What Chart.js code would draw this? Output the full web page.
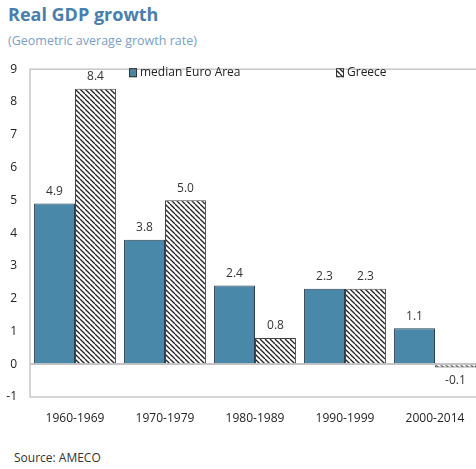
<!DOCTYPE html>
<html>
<head>
<meta charset="utf-8">
<script src="https://cdn.jsdelivr.net/npm/chart.js@4"></script>
<style>
    html, body { margin: 0; padding: 0; background: #fff; width: 476px; height: 469px; overflow: hidden; position: relative; font-family: "Open Sans", sans-serif; }
    #title { position: absolute; left: 8px; top: 2px; font-size: 18px; font-weight: bold; color: #4a7eac; }
    #subtitle { position: absolute; left: 8px; top: 32px; font-size: 12.5px; color: #7b9ec4; }
    #source { position: absolute; left: 14px; top: 449px; font-size: 12px; color: #333; }
    #wrap { position: absolute; left: 0; top: 49px; }
</style>
</head>
<body>
<div id="title">Real GDP growth</div>
<div id="subtitle">(Geometric average growth rate)</div>
<div id="wrap"><canvas id="gdpChart" width="480" height="391"></canvas></div>
<div id="source">Source: AMECO</div>
<script>
    var periods = ['1960-1969', '1970-1979', '1980-1989', '1990-1999', '2000-2014'];
    var euroArea = [4.9, 3.8, 2.4, 2.3, 1.1];
    var greece = [8.4, 5.0, 0.8, 2.3, -0.1];

    // diagonal hatching used for the Greece bars
    function hatch() {
        var s = 5;
        var c = document.createElement('canvas');
        c.width = s; c.height = s;
        var g = c.getContext('2d');
        g.fillStyle = '#fff';
        g.fillRect(0, 0, s, s);
        g.strokeStyle = '#222';
        g.lineWidth = 1.3;
        [-s, 0, s].forEach(function (o) {
            g.beginPath();
            g.moveTo(o, 0);
            g.lineTo(o + s, s);
            g.stroke();
        });
        return g.createPattern(c, 'repeat');
    }
    var greecePattern = hatch();

    var plotBox = {
        id: 'plotBox',
        beforeDatasetsDraw: function (chart) {
            var a = chart.chartArea, ctx = chart.ctx;
            ctx.save();
            ctx.strokeStyle = '#c8c8c8';
            ctx.lineWidth = 1.5;
            ctx.strokeRect(a.left, a.top, a.right - a.left, a.bottom - a.top);
            ctx.restore();
        }
    };

    var valueLabels = {
        id: 'valueLabels',
        afterDatasetsDraw: function (chart) {
            var ctx = chart.ctx;
            ctx.save();
            ctx.font = '12px "Open Sans"';
            ctx.fillStyle = '#333';
            ctx.textAlign = 'center';
            chart.data.datasets.forEach(function (ds, i) {
                chart.getDatasetMeta(i).data.forEach(function (bar, j) {
                    var v = ds.data[j];
                    if (v >= 0) {
                        ctx.textBaseline = 'bottom';
                        ctx.fillText(v.toFixed(1), bar.x, bar.y - 6);
                    } else {
                        ctx.textBaseline = 'top';
                        ctx.fillText(v.toFixed(1), bar.x, bar.y + 7);
                    }
                });
            });
            ctx.restore();
        }
    };

    var legendBox = {
        id: 'legendBox',
        afterDraw: function (chart) {
            var ctx = chart.ctx;
            var xs = [129, 336];
            var y = chart.chartArea.top + 3;
            ctx.save();
            ctx.font = '12px "Open Sans"';
            ctx.textBaseline = 'middle';
            ctx.textAlign = 'left';
            chart.data.datasets.forEach(function (ds, i) {
                var x = xs[i];
                ctx.fillStyle = ds.backgroundColor;
                ctx.fillRect(x, y - 4, 8, 9);
                ctx.strokeStyle = '#333';
                ctx.lineWidth = 1;
                ctx.strokeRect(x + 0.5, y - 3.5, 7, 8);
                ctx.fillStyle = '#222';
                ctx.fillText(ds.label, x + 11, y);
            });
            ctx.restore();
        }
    };

    new Chart(document.getElementById('gdpChart').getContext('2d'), {
        type: 'bar',
        data: {
            labels: periods,
            datasets: [{
                label: 'median Euro Area',
                data: euroArea,
                backgroundColor: '#4a88aa',
                borderColor: '#2b3e4a',
                borderWidth: 1
            }, {
                label: 'Greece',
                data: greece,
                backgroundColor: greecePattern,
                borderColor: '#444',
                borderWidth: 1
            }]
        },
        options: {
            responsive: false,
            animation: false,
            layout: { autoPadding: false, padding: { top: 9, right: 0, bottom: 13, left: 0 } },
            plugins: {
                legend: { display: false },
                tooltip: { enabled: false }
            },
            datasets: {
                bar: { categoryPercentage: 0.91, barPercentage: 1.0 }
            },
            scales: {
                x: {
                    afterFit: function (scale) { scale.height = 30; },
                    grid: { display: false, drawTicks: false },
                    border: { display: false },
                    ticks: { color: '#222', font: { family: 'Open Sans', size: 12 }, padding: 14, maxRotation: 0 }
                },
                y: {
                    min: -1,
                    max: 9,
                    afterFit: function (scale) { scale.width = 30; },
                    border: { display: false },
                    grid: {
                        drawTicks: false,
                        color: function (c) { return c.tick && c.tick.value === 0 ? '#c4c4c4' : 'rgba(0,0,0,0)'; },
                        lineWidth: 2
                    },
                    ticks: { stepSize: 1, color: '#222', font: { family: 'Open Sans', size: 12 }, padding: 13 }
                }
            }
        },
        plugins: [plotBox, valueLabels, legendBox]
    });
</script>
</body>
</html>
